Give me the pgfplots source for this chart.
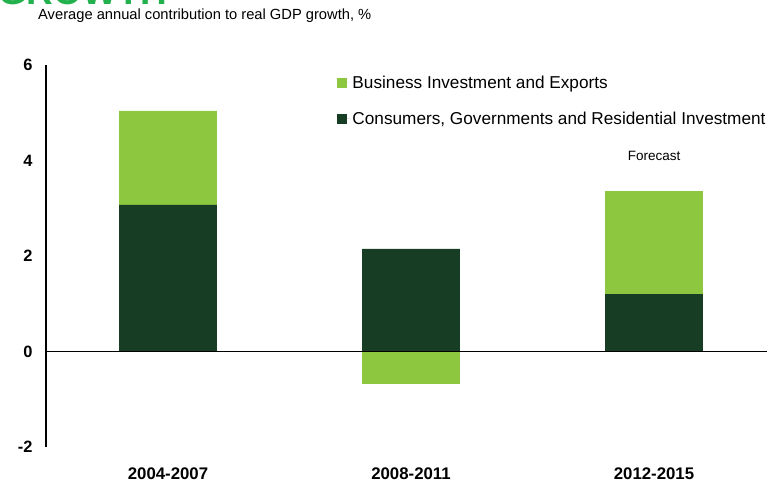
\documentclass[border=0pt]{standalone}
\usepackage{pgfplots}
\pgfplotsset{compat=1.18}
\usepackage{pgfplotstable}
\usepackage{fontspec}
\setmainfont{Liberation Sans}

\definecolor{bizgreen}{RGB}{141,198,63}
\definecolor{consgreen}{RGB}{24,61,37}
\definecolor{titlegreen}{RGB}{34,177,76}

% contributions to real GDP growth, percentage points
\pgfplotstableread{
x cons biz
0 3.07 1.97
1 2.15 -0.68
2 1.20 2.16
}\contrib

\begin{document}
\begin{tikzpicture}[x=1pt,y=1pt]
\path[use as bounding box] (0,0) rectangle (767,482);
\node[anchor=base west, inner sep=0pt, text=titlegreen,
      font=\bfseries\fontsize{37}{37}\selectfont] at (-2,477) {GROWTH};
\node[anchor=west, inner sep=0pt, font=\fontsize{14.7}{16}\selectfont]
  at (38,466) {Average annual contribution to real GDP growth, \%};
\begin{axis}[
  at={(46pt,35pt)}, anchor=south west,
  scale only axis, width=721pt, height=382pt,
  xmin=-0.502, xmax=2.465, ymin=-2, ymax=6,
  axis lines=left, axis line style={-, line width=1.3pt},
  x axis line style={draw=none},
  ybar, bar width=0.403, bar shift=0pt,
  xtick={0,1,2}, xticklabels={2004-2007,2008-2011,2012-2015},
  ytick={-2,0,2,4,6},
  major tick length=0pt,
  /pgf/number format/assume math mode=true,
  tick label style={font=\bfseries\fontsize{16.4}{17}\selectfont},
  xticklabel style={font=\bfseries\fontsize{16.8}{17}\selectfont, yshift=-17pt},
  yticklabel style={xshift=-10pt},
  legend style={draw=none, fill=none, at={(0.404,0.977)}, anchor=north west,
    font=\fontsize{17.2}{19}\selectfont, row sep=18pt, inner sep=0pt,
    legend cell align=left},
  legend image code/.code={\fill[#1] (0pt,-5pt) rectangle (10pt,5pt);
    \path (10pt,0pt) -- (13pt,0pt);},
]
% light bars: from zero to the top of the stack, or below zero when negative
\addplot[fill=bizgreen, draw=none] table[x=x,
  y expr={ifthenelse(\thisrow{biz}<0,\thisrow{biz},\thisrow{cons}+\thisrow{biz})}]{\contrib};
\addlegendentry{Business Investment and Exports}
\addplot[fill=consgreen, draw=none] table[x=x, y=cons]{\contrib};
\addlegendentry{Consumers, Governments and Residential Investment}
\draw[black, line width=1.5pt] ({rel axis cs:0,0}|-{axis cs:0,0}) -- ({rel axis cs:1,0}|-{axis cs:0,0});
\node[font=\fontsize{13.5}{15}\selectfont] at (axis cs:2,4.09) {Forecast};
\end{axis}
\end{tikzpicture}
\end{document}
